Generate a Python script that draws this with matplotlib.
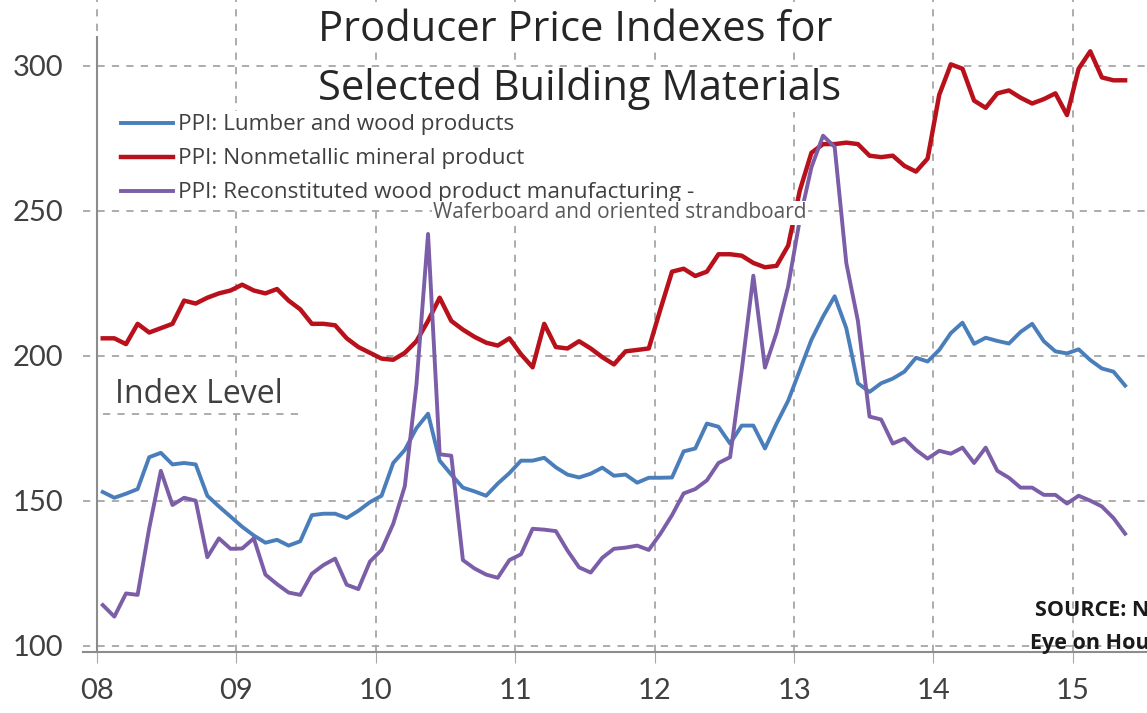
import matplotlib
matplotlib.use("Agg")
import matplotlib.pyplot as plt
from matplotlib.lines import Line2D
import numpy as np
import pandas as pd

# monthly data, Jan 2008 .. May 2015
months = pd.date_range("2008-01-01", periods=89, freq="MS")

lumber = [153, 151, 152.4, 154, 165, 166.5, 162.5, 163, 162.5, 151.7, 148, 144.5,
          141, 138, 135.5, 136.5, 134.5, 136, 145, 145.5, 145.5, 144, 146.5, 149.5,
          151.7, 163, 167.5, 175, 180, 163.8, 159, 154.5, 153.2, 151.7, 155.9, 159.5,
          163.8, 163.8, 164.8, 161.5, 159, 158, 159.3, 161.4, 158.6, 159, 156.2, 157.9,
          157.9, 158, 167, 168, 176.6, 175.5, 169.7, 175.9, 175.9, 168, 176.6, 184.5,
          195, 205.5, 213.5, 220.5, 209.5, 190.5, 187.5, 190.5, 192.1, 194.5, 199.3, 198,
          202, 207.8, 211.4, 204.1, 206.2, 205.1, 204.2, 208.2, 211, 205, 201.5, 200.8,
          202.2, 198.5, 195.6, 194.5, 189.7]

nonmetallic = [206, 206, 204, 211, 208, 209.5, 211, 219, 218, 220, 221.5, 222.5,
               224.5, 222.5, 221.5, 223, 219, 216, 211, 211, 210.5, 206, 203, 201,
               199, 198.6, 201, 205, 212, 220, 212, 209, 206.5, 204.5, 203.5, 206,
               200.5, 196, 211, 203, 202.5, 205, 202.5, 199.5, 197, 201.5, 202, 202.5,
               216, 229, 230, 227.5, 229, 235, 235, 234.5, 232, 230.5, 231, 238,
               257, 270, 273, 273, 273.5, 273, 269, 268.5, 269, 265.5, 263.5, 268,
               290, 300.5, 299, 288, 285.5, 290.5, 291.5, 289, 287, 288.5, 290.5, 283,
               299, 305, 296, 295, 295]

osb = [114, 110, 118, 117.5, 140.5, 160.3, 148.5, 151, 150, 130.5, 137, 133.4,
       133.5, 137, 124.5, 121.2, 118.3, 117.5, 124.8, 127.8, 130, 121, 119.5, 129,
       133, 142, 155, 190, 242, 166, 165.5, 129.5, 126.6, 124.5, 123.4, 129.5,
       131.5, 140.3, 140, 139.5, 132.8, 127, 125.2, 130.3, 133.4, 133.8, 134.5, 133,
       138.6, 145, 152.5, 154, 157, 163, 165, 195, 227.6, 195.9, 208, 224,
       247, 265, 275.9, 272, 232, 212, 179, 178, 169.7, 171.4, 167.5, 164.5,
       167.2, 166.2, 168.3, 163, 168.3, 160.3, 157.9, 154.5, 154.5, 152, 152, 149,
       151.7, 150, 148, 144, 138.6]

year_ticks = [2008, 2009, 2010, 2011, 2012, 2013, 2014, 2015]
year_labels = ["08", "09", "10", "11", "12", "13", "14", "15"]
y_ticks = [100, 150, 200, 250, 300]

# fractional years, plotted mid-month
x = months.year + (months.month - 0.5) / 12

W, H = 1147, 713
plt.rcParams["font.family"] = ["Lato", "DejaVu Sans"]
OPEN = ["Open Sans", "DejaVu Sans"]

fig = plt.figure(figsize=(W / 100, H / 100), dpi=100)
ax = fig.add_axes([83 / W, 61 / H, 1 - 83 / W, 1 - 61 / H])

ax.plot(x, lumber, color="#4a7ebb", lw=2.8, label="PPI: Lumber and wood products")
ax.plot(x, nonmetallic, color="#b8111b", lw=3.2, label="PPI: Nonmetallic mineral product")
ax.plot(x, osb, color="#7b5ea7", lw=2.8,
        label="PPI: Reconstituted wood product manufacturing -")

ax.set_xlim(2007.9, 2015.532)
ax.set_ylim(97.8, 322.7)
ax.set_xticks(year_ticks)
ax.set_xticklabels(year_labels)
ax.set_yticks(y_ticks)

gridkw = dict(color="#a6a6a6", lw=1.3, ls=(0, (4, 4)))
ax.grid(True, **gridkw)
ax.set_axisbelow(True)

for s in ["top", "right"]:
    ax.spines[s].set_visible(False)
ax.spines["left"].set_position(("data", 2008))
ax.spines["left"].set_bounds(97.8, 310)
for s in ["left", "bottom"]:
    ax.spines[s].set_color("#8c8c8c")
    ax.spines[s].set_linewidth(1.5)

ax.tick_params(axis="y", length=0, pad=24, labelsize=21, labelcolor="#404040")
ax.tick_params(axis="x", length=8, color="#a6a6a6", pad=11, labelsize=21,
               labelcolor="#404040")

leg = ax.legend(loc="upper left", bbox_to_anchor=(118 / W, 1 - 111 / H),
                bbox_transform=fig.transFigure,
                prop={"family": OPEN, "size": 16.2}, frameon=True,
                handlelength=2.3, handletextpad=0.2, labelspacing=0.58,
                borderpad=0.15, borderaxespad=0)
leg.get_frame().set_facecolor("white")
leg.get_frame().set_edgecolor("none")
leg.get_frame().set_alpha(1)
for t in leg.get_texts():
    t.set_color("#404040")

box = dict(facecolor="white", edgecolor="none", pad=1)
fig.text(575 / W, 1 - 30 / H, "Producer Price Indexes for", ha="center", va="center",
         fontsize=30, family=OPEN, color="#262626", bbox=box)
fig.text(580 / W, 1 - 89 / H, "Selected Building Materials", ha="center", va="center",
         fontsize=30, family=OPEN, color="#262626", bbox=box)
fig.text(433 / W, 1 - 213 / H, "Waferboard and oriented strandboard", ha="left",
         va="center", fontsize=15, family=OPEN, color="#595959", bbox=box)
fig.text(115 / W, 1 - 395 / H, "Index Level", ha="left", va="center", fontsize=23,
         family=OPEN, color="#404040", bbox=box)
fig.add_artist(Line2D([103 / W, 300 / W], [1 - 414 / H, 1 - 414 / H],
                      zorder=5, **gridkw))
fig.text(1035 / W, 1 - 610 / H, "SOURCE: NAHB", ha="left", va="center",
         fontsize=15.5, family=OPEN, fontweight="bold", color="#1a1a1a")
fig.text(1030 / W, 1 - 643 / H, "Eye on Housing", ha="left", va="center",
         fontsize=15.5, family=OPEN, fontweight="bold", color="#1a1a1a")

fig.savefig("out.png", dpi=100)
